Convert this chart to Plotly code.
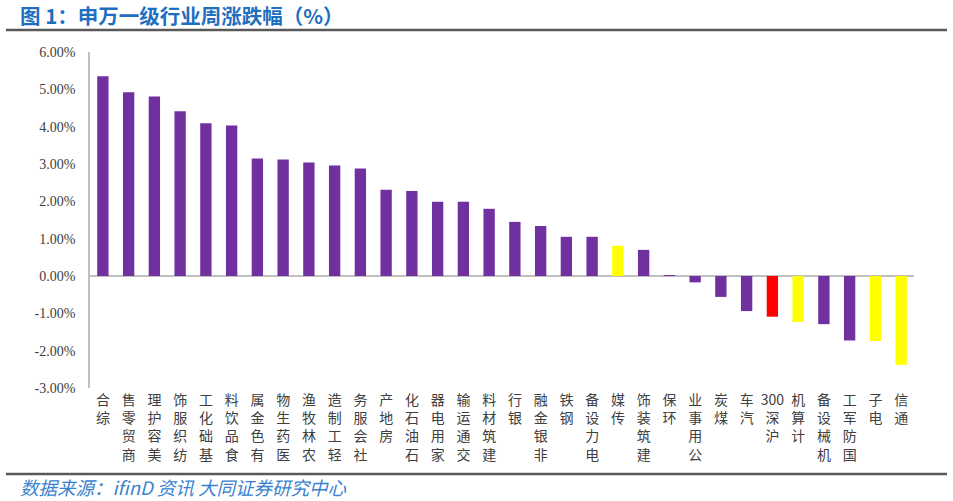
import plotly.graph_objects as go

categories = ["综合", "商贸零售", "美容护理", "纺织服饰", "基础化工", "食品饮料", "有色金属",
              "医药生物", "农林牧渔", "轻工制造", "社会服务", "房地产", "石油石化", "家用电器",
              "交通运输", "建筑材料", "银行", "非银金融", "钢铁", "电力设备", "传媒", "建筑装饰",
              "环保", "公用事业", "煤炭", "汽车", "沪深300", "计算机", "机械设备", "国防军工",
              "电子", "通信"]
values = [5.35, 4.92, 4.81, 4.41, 4.09, 4.03, 3.15, 3.12, 3.04, 2.96, 2.88, 2.31, 2.28, 1.99,
          1.99, 1.80, 1.45, 1.34, 1.05, 1.05, 0.81, 0.70, 0.01, -0.17, -0.56, -0.94, -1.09,
          -1.23, -1.29, -1.73, -1.74, -2.38]
yellow_set = ["传媒", "计算机", "电子", "通信"]
red_set = ["沪深300"]
y_ticks = [-3, -2, -1, 0, 1, 2, 3, 4, 5, 6]
y_tick_text = ["-3.00%", "-2.00%", "-1.00%", "0.00%", "1.00%", "2.00%", "3.00%", "4.00%", "5.00%", "6.00%"]
title_text = "图 1：申万一级行业周涨跌幅（%）"
source_text = "数据来源：ifinD 资讯 大同证券研究中心"

PURPLE = "#7030A0"
YELLOW = "#FFFF00"
RED = "#FF0000"


def vertical_label(name):
    tokens = []
    buf = ""
    for ch in name:
        if ch.isdigit():
            buf += ch
        else:
            if buf:
                tokens.append(buf)
                buf = ""
            tokens.append(ch)
    if buf:
        tokens.append(buf)
    return "<br>".join(reversed(tokens))


colors = [YELLOW if c in yellow_set else RED if c in red_set else PURPLE for c in categories]
tick_labels = [vertical_label(c) for c in categories]

fig = go.Figure()
fig.add_trace(go.Bar(x=categories, y=values, marker=dict(color=colors, line=dict(width=0)),
                     hoverinfo="x+y"))

W, H = 953, 501
PL, PR, PT, PB = 90, 914, 52, 388  # plot area in window pixels
L, T, R, B = PL, PT, W - PR, H - PB
pw = PR - PL
ph = PB - PT


def px_x(x):
    return (x - PL) / pw


def px_y(y):
    return (PB - y) / ph


fig.update_layout(
    width=W, height=H,
    margin=dict(l=L, r=R, t=T, b=B, autoexpand=False),
    paper_bgcolor="white", plot_bgcolor="white",
    showlegend=False,
    bargap=0.56,
    xaxis=dict(
        tickmode="array", tickvals=categories, ticktext=tick_labels,
        tickangle=0, showline=False, showgrid=False, ticks="",
        tickfont=dict(family="Noto Sans CJK SC, Liberation Serif", size=14, color="#404040"),
        ticklabelstandoff=2, automargin=False,
        range=[-0.5, len(categories) - 0.5],
    ),
    yaxis=dict(
        range=[-3, 6], tickmode="array", tickvals=y_ticks, ticktext=y_tick_text,
        showgrid=False, showline=True, linecolor="#BFBFBF", linewidth=1.5,
        zeroline=True, zerolinecolor="#BFBFBF", zerolinewidth=1.5,
        ticks="", ticklabelstandoff=10, automargin=False,
        tickfont=dict(family="Liberation Serif, Noto Sans CJK SC", size=14, color="#404040"),
    ),
    shapes=[
        dict(type="line", xref="paper", yref="paper", x0=px_x(6), x1=px_x(947),
             y0=px_y(30), y1=px_y(30), line=dict(color="#595959", width=2.5)),
        dict(type="line", xref="paper", yref="paper", x0=px_x(6), x1=px_x(947),
             y0=px_y(474), y1=px_y(474), line=dict(color="#595959", width=2.5)),
    ],
    annotations=[
        dict(text="<b>" + title_text + "</b>", xref="paper", yref="paper",
             x=px_x(18), y=px_y(15), xanchor="left", yanchor="middle", showarrow=False,
             font=dict(family="Noto Sans CJK SC", size=20.5, color="#1F6FC0")),
        dict(text="<i>" + source_text + "</i>", xref="paper", yref="paper",
             x=px_x(18), y=px_y(487), xanchor="left", yanchor="middle", showarrow=False,
             font=dict(family="Noto Sans CJK SC", size=18.5, color="#3A82D0")),
    ],
)

fig.write_html("out.html", config={"displayModeBar": False},
               post_script="document.body.style.margin='0px';")
